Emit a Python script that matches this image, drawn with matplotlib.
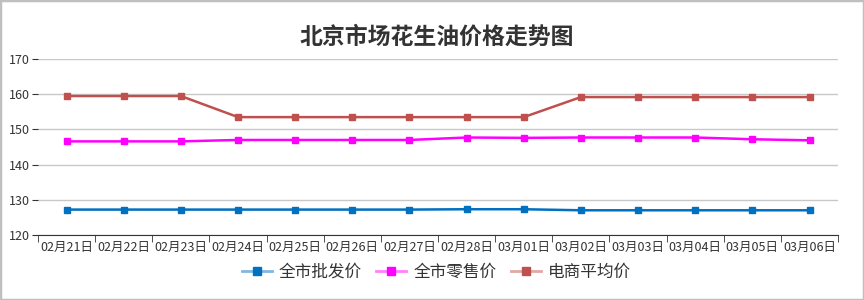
import matplotlib
matplotlib.use("Agg")
import matplotlib.pyplot as plt
from matplotlib.colors import to_rgb
from matplotlib.lines import Line2D
from matplotlib.patches import Rectangle

plt.rcParams["font.family"] = ["Noto Sans CJK SC", "DejaVu Sans"]

dates = ["02月21日", "02月22日", "02月23日", "02月24日", "02月25日", "02月26日", "02月27日",
         "02月28日", "03月01日", "03月02日", "03月03日", "03月04日", "03月05日", "03月06日"]
wholesale = [127.2, 127.2, 127.2, 127.2, 127.2, 127.2, 127.2, 127.3, 127.3, 127.0, 127.0, 127.0, 127.0, 127.0]
retail = [146.6, 146.6, 146.6, 147.0, 147.0, 147.0, 147.0, 147.7, 147.6, 147.7, 147.7, 147.7, 147.2, 146.9]
ecommerce = [159.5, 159.5, 159.5, 153.5, 153.5, 153.5, 153.5, 153.5, 153.5, 159.2, 159.2, 159.2, 159.2, 159.2]
series_names = ["全市批发价", "全市零售价", "电商平均价"]
colors = ["#0070c0", "#ff00ff", "#c0504d"]


def pale(c, k=0.5):
    r, g, b = to_rgb(c)
    return (r + (1 - r) * k, g + (1 - g) * k, b + (1 - b) * k)


fig = plt.figure(figsize=(8.64, 3.0), dpi=100)
ax = fig.add_axes([0.044, 0.217, 0.926, 0.586])

x = list(range(len(dates)))
handles = []
for vals, name, c in zip([wholesale, retail, ecommerce], series_names, colors):
    ax.plot(x, vals, color=c, lw=1.8, marker="s", markersize=4)
    # legend handle: pale line, solid marker
    handles.append(Line2D([], [], color=pale(c), lw=2, marker="s", markersize=5.5,
                          markerfacecolor=c, markeredgecolor=c))

ax.set_xlim(-0.5, len(dates) - 0.5)
ax.set_ylim(120, 170)
ax.set_yticks(range(120, 171, 10))
ax.set_xticks(x)
ax.set_xticklabels(dates, fontsize=9, color="#333333")
ax.set_xticks([i + 0.5 for i in range(-1, len(dates))], minor=True)
ax.tick_params(axis="x", which="major", length=0, pad=4)
ax.tick_params(axis="x", which="minor", length=5, color="#333333")
ax.tick_params(axis="y", length=4, color="#333333", labelsize=9, labelcolor="#333333", pad=2)
ax.grid(axis="y", color="#c8c8c8", lw=1)
ax.set_axisbelow(True)
for s in ["top", "right", "left"]:
    ax.spines[s].set_visible(False)
ax.spines["bottom"].set_color("#333333")

fig.suptitle("北京市场花生油价格走势图", x=0.505, y=0.915, fontsize=16.5, fontweight="bold", color="#333333")

fig.legend(handles, series_names, loc="center", bbox_to_anchor=(0.505, 0.093), ncol=3, frameon=False,
           fontsize=12, handlelength=1.8, columnspacing=0.9, handletextpad=0.4, labelcolor="#333333")

fig.patches.append(Rectangle((0, 0), 1, 1, transform=fig.transFigure, fill=False,
                             edgecolor="#bfbfbf", lw=2.5))

fig.savefig("out.png", dpi=100)
